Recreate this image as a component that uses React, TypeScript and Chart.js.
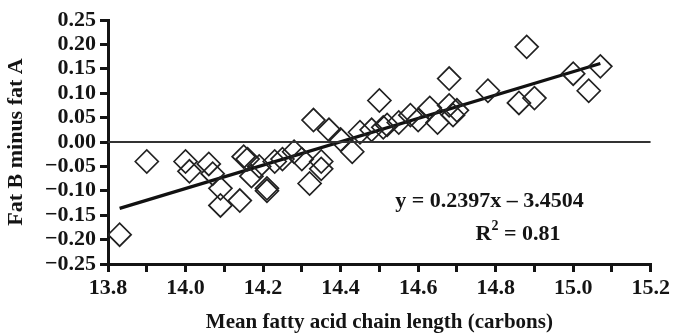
import React, { useEffect, useRef } from 'react';
import { Chart, registerables } from 'chart.js';

Chart.register(...registerables);

// Mean fatty acid chain length (carbons)
const chainLength = [
  13.83, 13.9, 14.0, 14.01, 14.06, 14.07, 14.09, 14.09, 14.14, 14.15,
  14.16, 14.17, 14.19, 14.21, 14.21, 14.23, 14.25, 14.28, 14.3, 14.32,
  14.33, 14.35, 14.35, 14.37, 14.4, 14.43, 14.45, 14.48, 14.5, 14.51,
  14.52, 14.55, 14.58, 14.6, 14.63, 14.65, 14.68, 14.68, 14.69, 14.7,
  14.78, 14.86, 14.88, 14.9, 15.0, 15.04, 15.07,
];
// Fat B minus fat A
const fatDiff = [
  -0.19, -0.04, -0.04, -0.06, -0.045, -0.065, -0.095, -0.13, -0.12, -0.03,
  -0.035, -0.07, -0.05, -0.095, -0.1, -0.04, -0.035, -0.02, -0.035, -0.085,
  0.045, -0.04, -0.055, 0.025, 0.005, -0.02, 0.02, 0.025, 0.085, 0.03,
  0.035, 0.04, 0.055, 0.045, 0.07, 0.04, 0.075, 0.13, 0.055, 0.065,
  0.105, 0.08, 0.195, 0.09, 0.14, 0.105, 0.155,
];
const trendX = [13.83, 15.07];
const trendY = [-0.136, 0.161];
const zeroX = [13.8, 15.2];
const zeroY = [0, 0];

const equationText = 'y = 0.2397x \u2013 3.4504';
const equationAnchor = [14.784, -0.121];
const r2Label = 'R';
const r2Sup = '2';
const r2Rest = ' = 0.81';
const r2Anchor = [14.748, -0.189];

const xTitle = 'Mean fatty acid chain length (carbons)';
const yTitle = 'Fat B minus fat A';

const FONT = '"Liberation Serif", "Times New Roman", serif';
const INK = '#141414';

const annotationPlugin = {
  id: 'annotations',
  afterDatasetsDraw(chart: any) {
    const { ctx, scales } = chart;
    const x = scales.x;
    const y = scales.y;
    ctx.save();
    ctx.fillStyle = INK;
    ctx.textBaseline = 'middle';
    ctx.font = `bold 22px ${FONT}`;
    ctx.textAlign = 'center';
    ctx.fillText(equationText, x.getPixelForValue(equationAnchor[0]), y.getPixelForValue(equationAnchor[1]));
    let px = x.getPixelForValue(r2Anchor[0]);
    const py = y.getPixelForValue(r2Anchor[1]);
    ctx.textAlign = 'left';
    ctx.fillText(r2Label, px, py);
    px += ctx.measureText(r2Label).width;
    ctx.font = `bold 14px ${FONT}`;
    ctx.fillText(r2Sup, px, py - 8);
    px += ctx.measureText(r2Sup).width;
    ctx.font = `bold 22px ${FONT}`;
    ctx.fillText(r2Rest, px, py);
    ctx.restore();
  },
};

export default function App() {
  const ref = useRef<HTMLCanvasElement | null>(null);

  useEffect(() => {
    if (!ref.current) return;
    const points = chainLength.map((v, i) => ({ x: v, y: fatDiff[i] }));
    const trend = trendX.map((v, i) => ({ x: v, y: trendY[i] }));
    const zero = zeroX.map((v, i) => ({ x: v, y: zeroY[i] }));

    const chart = new Chart(ref.current, {
      type: 'scatter',
      data: {
        datasets: [
          {
            data: zero,
            showLine: true,
            borderColor: '#333',
            borderWidth: 1.8,
            pointRadius: 0,
          },
          {
            data: points,
            pointStyle: 'rectRot',
            pointRadius: 11.5,
            borderColor: '#222',
            borderWidth: 1.7,
            backgroundColor: 'rgba(0,0,0,0)',
          },
          {
            data: trend,
            showLine: true,
            borderColor: '#111',
            borderWidth: 3.2,
            pointRadius: 0,
          },
        ],
      },
      options: {
        animation: false,
        responsive: true,
        maintainAspectRatio: false,
        layout: { padding: { left: 0, top: 20, right: 20, bottom: 0 } },
        plugins: { legend: { display: false }, tooltip: { enabled: false } },
        scales: {
          x: {
            type: 'linear',
            min: 13.8,
            max: 15.2,
            afterFit: (s: any) => {
              s.height = 69;
            },
            ticks: {
              stepSize: 0.1,
              autoSkip: false,
              maxRotation: 0,
              padding: 3,
              color: INK,
              font: { family: FONT, size: 22, weight: 'bold' },
              callback: (v: any) => {
                const n = Math.round(Number(v) * 10);
                return n % 2 === 0 ? (n / 10).toFixed(1) : '';
              },
            },
            grid: {
              drawOnChartArea: false,
              drawTicks: true,
              tickLength: 8,
              lineWidth: 3,
              color: INK,
            },
            border: { display: true, width: 3, color: INK },
            title: {
              display: true,
              text: xTitle,
              color: INK,
              font: { family: FONT, size: 21, weight: 'bold' },
              padding: { top: 0, bottom: -2 },
            },
          },
          y: {
            type: 'linear',
            min: -0.25,
            max: 0.25,
            afterFit: (s: any) => {
              s.width = 108;
            },
            ticks: {
              stepSize: 0.05,
              autoSkip: false,
              padding: 4,
              color: INK,
              font: { family: FONT, size: 22, weight: 'bold' },
              callback: (v: any) => {
                const n = Math.round(Number(v) * 100) / 100;
                const s = Math.abs(n).toFixed(2);
                return n < 0 ? '\u2212' + s : s;
              },
            },
            grid: {
              drawOnChartArea: false,
              drawTicks: true,
              tickLength: 8,
              lineWidth: 3,
              color: INK,
            },
            border: { display: true, width: 3, color: INK },
            title: {
              display: true,
              text: yTitle,
              color: INK,
              font: { family: FONT, size: 22, weight: 'bold' },
              padding: { top: 3, bottom: 0 },
            },
          },
        },
      },
      plugins: [annotationPlugin],
    } as any);

    return () => chart.destroy();
  }, []);

  return (
    <div style={{ position: 'absolute', left: 0, top: 0, width: 673, height: 333 }}>
      <canvas ref={ref} />
    </div>
  );
}
